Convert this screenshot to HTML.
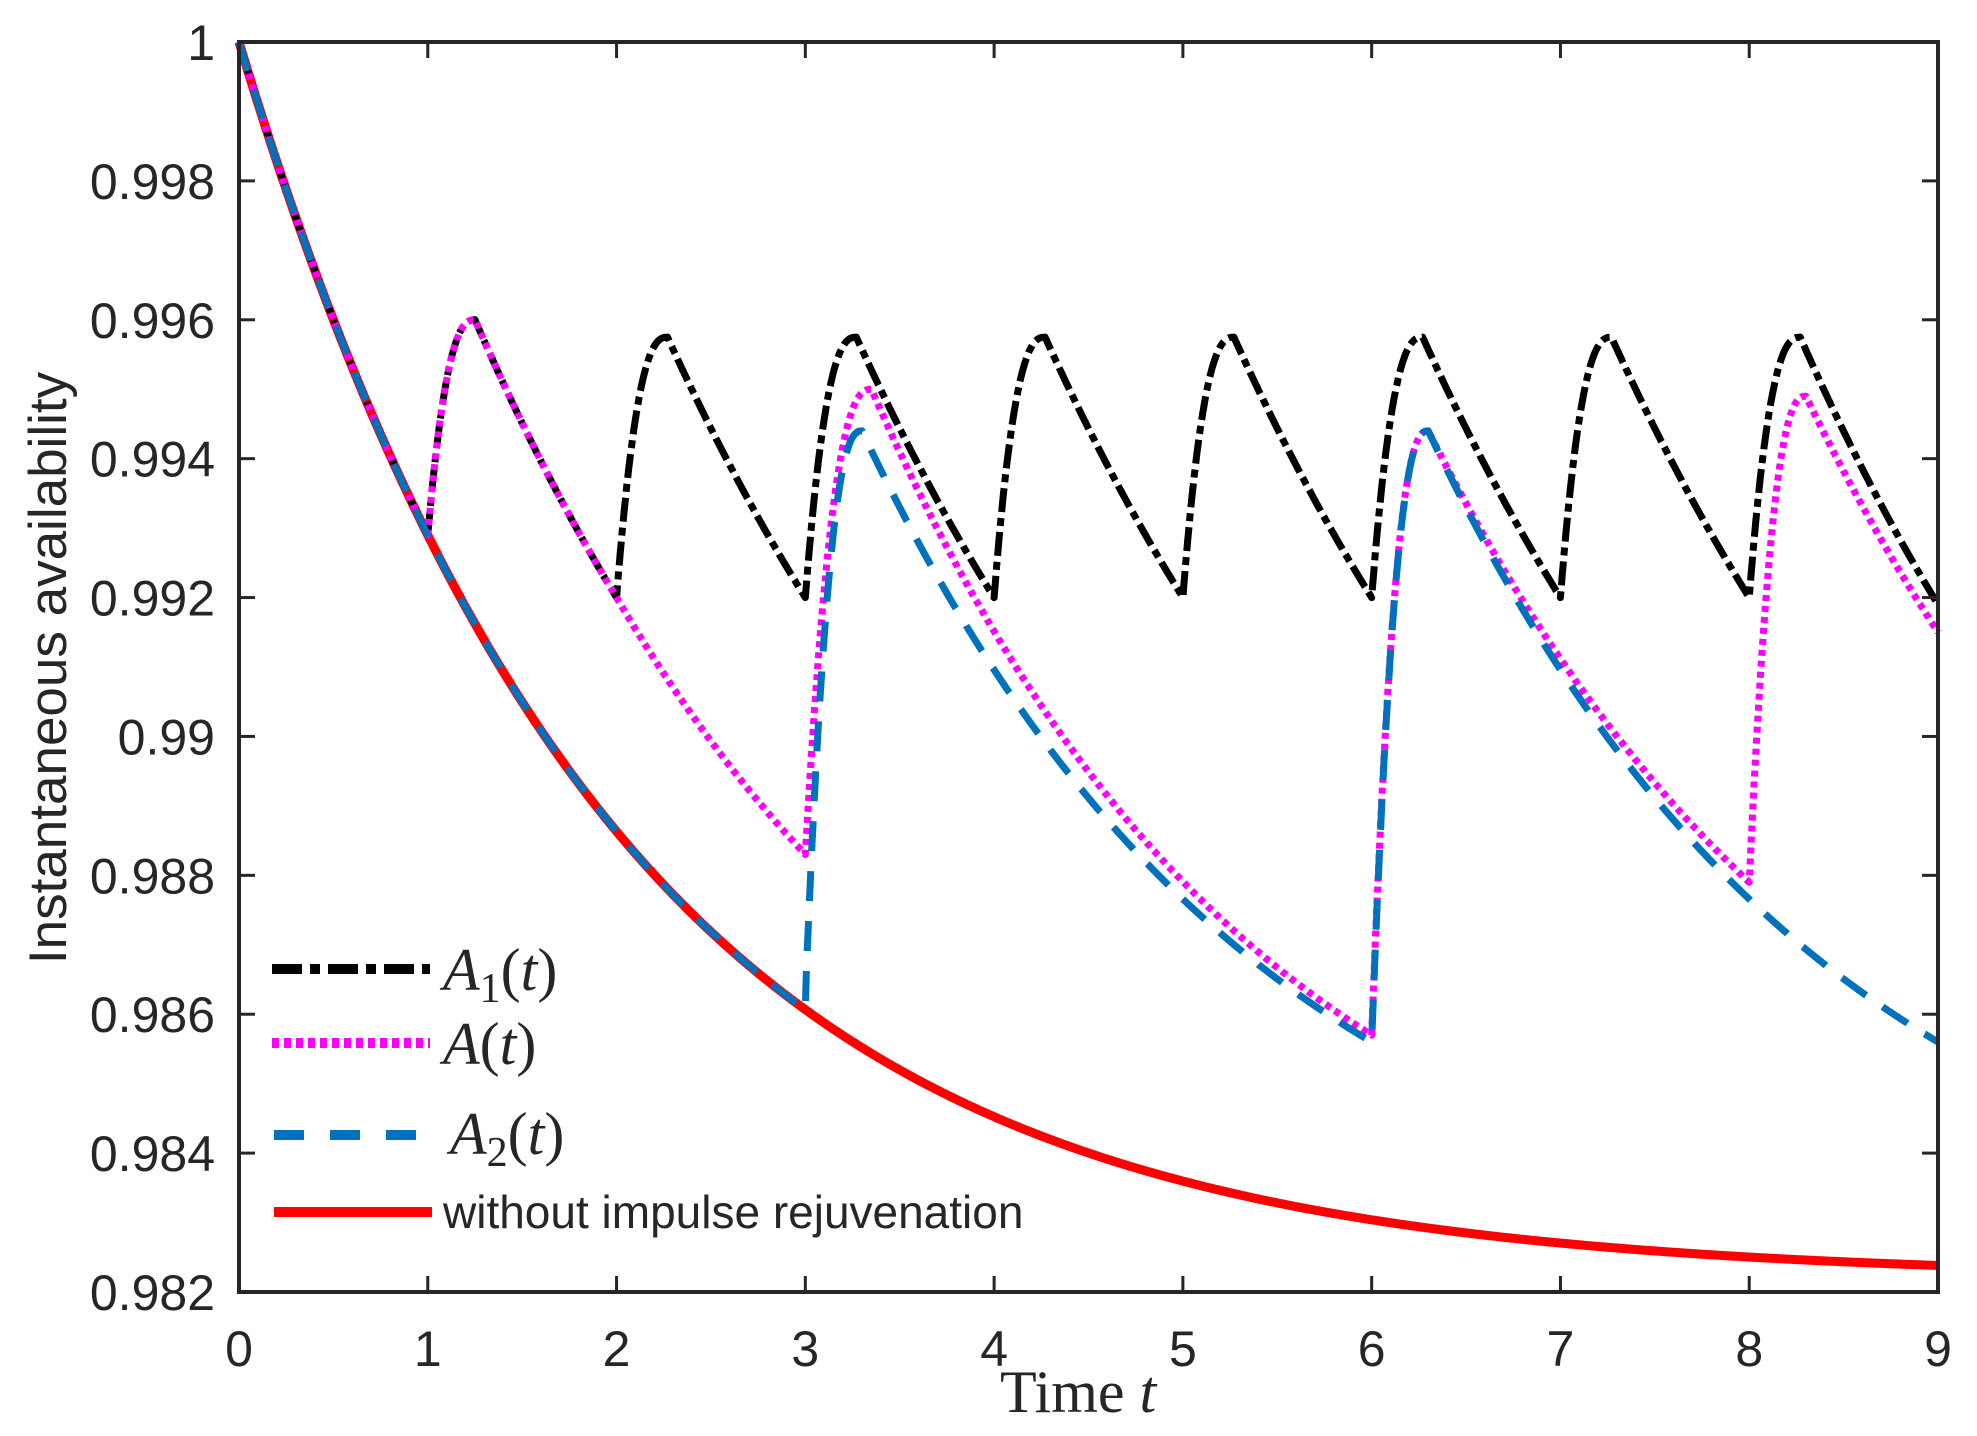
<!DOCTYPE html>
<html><head><meta charset="utf-8"><style>
html,body{margin:0;padding:0;background:#fff;}
svg{display:block;}
.tk{font-family:"Liberation Sans",sans-serif;font-size:50px;fill:#262626;}
</style></head><body>
<svg id="s" width="1977" height="1436" viewBox="0 0 1977 1436" xmlns="http://www.w3.org/2000/svg">
<rect width="1977" height="1436" fill="#fff"/>
<g id="plot"></g>
<rect x="239" y="42" width="1699" height="1250" fill="none" stroke="#262626" stroke-width="4"/>
<g id="ticks" stroke="#262626" stroke-width="3"></g>
<g id="labels"></g>
<text x="66" y="668" transform="rotate(-90 66 668)" text-anchor="middle" font-family="Liberation Sans,sans-serif" font-size="53" fill="#262626">Instantaneous availability</text>
<text x="1000" y="1412" font-family="Liberation Serif,serif" font-size="60" fill="#262626">Time <tspan font-style="italic">t</tspan></text>
<g id="legend">
<line x1="272" y1="969" x2="430" y2="969" stroke="#000" stroke-width="10" stroke-dasharray="30,8,10,8"/>
<text x="443" y="990" font-family="Liberation Serif,serif" font-style="italic" font-size="60" fill="#262626">A<tspan font-style="normal" font-size="42" dy="12">1</tspan><tspan font-style="normal" dy="-12">(</tspan>t<tspan font-style="normal">)</tspan></text>
<line x1="272" y1="1043" x2="430" y2="1043" stroke="#ff00ff" stroke-width="10" stroke-dasharray="7,5"/>
<text x="443" y="1064" font-family="Liberation Serif,serif" font-style="italic" font-size="60" fill="#262626">A<tspan font-style="normal">(</tspan>t<tspan font-style="normal">)</tspan></text>
<line x1="274" y1="1135" x2="432" y2="1135" stroke="#0072BD" stroke-width="10" stroke-dasharray="30,26"/>
<text x="450" y="1154" font-family="Liberation Serif,serif" font-style="italic" font-size="60" fill="#262626">A<tspan font-style="normal" font-size="42" dy="12">2</tspan><tspan font-style="normal" dy="-12">(</tspan>t<tspan font-style="normal">)</tspan></text>
<line x1="274" y1="1212" x2="432" y2="1212" stroke="#ff0000" stroke-width="10"/>
<text x="443" y="1228" font-family="Liberation Sans,sans-serif" font-size="46" fill="#262626">without impulse rejuvenation</text>
</g>
</svg>
<script>
var X0=239,X1=1938,Y0=1292,Y1=42;
function px(t){return X0+(X1-X0)*t/9;}
function py(v){return Y0-(Y0-Y1)*(v-0.982)/0.018;}
var a=0.9822,k=0.509;
function base(t){return a+(1-a)*Math.exp(-k*t);}
function seg(t0,t1,A0,tp,P,E){
  var d=t1-tp, kk=Math.log((P-a)/(E-a))/d;
  return function(t){
    if(t<tp){var u=(t-t0)/(tp-t0);return A0+(P-A0)*(1-Math.pow(1-u,2.5));}
    return a+(P-a)*Math.exp(-kk*(t-tp));
  };
}
function decay(t0,t1,A0,E){var kk=Math.log((A0-a)/(E-a))/(t1-t0);return function(t){return a+(A0-a)*Math.exp(-kk*(t-t0));};}
function build(list){return function(t){for(var i=0;i<list.length;i++){if(t<=list[i][1]+1e-9&&t>=list[i][0])return list[i][2](t);}return base(t);};}
var A1L=[[0,1,base],[1,2,seg(1,2,0.9929,1.25,0.9960,0.9920)]];
for(var n=2;n<9;n++)A1L.push([n,n+1,seg(n,n+1,0.9920,n+0.27,0.99575,n==8?0.9919:0.9920)]);
var AL=[[0,1,base],[1,2,seg(1,2,0.9929,1.25,0.9960,0.9920)],[2,3,decay(2,3,0.9920,0.9883)],
 [3,6,seg(3,6,0.9883,3.35,0.9950,0.9857)],[6,8,seg(6,8,0.9857,6.3,0.9944,0.9879)],[8,9,seg(8,9,0.9879,8.3,0.9949,0.9915)]];
var A2L=[[0,3,base],[3,6,seg(3,6,0.98625,3.3,0.9944,0.9856)],[6,9,seg(6,9,0.9856,6.3,0.9944,0.9856)]];
function path(f){var d="",N=1800;for(var i=0;i<=N;i++){var t=9*i/N;var v=f(t);d+=(i?"L":"M")+px(t).toFixed(1)+","+py(v).toFixed(1);}return d;}
var g=document.getElementById("plot"),NS="http://www.w3.org/2000/svg";
function add(d,col,w,dash){var p=document.createElementNS(NS,"path");p.setAttribute("d",d);p.setAttribute("fill","none");p.setAttribute("stroke",col);p.setAttribute("stroke-width",w);p.setAttribute("stroke-linejoin","round");if(dash)p.setAttribute("stroke-dasharray",dash);g.appendChild(p);}
add(path(base),"#ff0000",9);
add(path(build(A1L)),"#000",7,"24,6,8,6");
add(path(build(AL)),"#ff00ff",7,"6,5");
add(path(build(A2L)),"#0072BD",7,"30,20");
var tk=document.getElementById("ticks"),lb=document.getElementById("labels");
function ln(x1,y1,x2,y2){var l=document.createElementNS(NS,"line");l.setAttribute("x1",x1);l.setAttribute("y1",y1);l.setAttribute("x2",x2);l.setAttribute("y2",y2);tk.appendChild(l);}
function tx(x,y,s,anc){var t=document.createElementNS(NS,"text");t.setAttribute("x",x);t.setAttribute("y",y);t.setAttribute("class","tk");t.setAttribute("text-anchor",anc);t.textContent=s;lb.appendChild(t);}
for(var i=0;i<=9;i++){var x=px(i);ln(x,Y0,x,Y0-16);ln(x,Y1,x,Y1+16);tx(x,1366,""+i,"middle");}
var yl=["0.982","0.984","0.986","0.988","0.99","0.992","0.994","0.996","0.998","1"];
for(var j=0;j<=9;j++){var y=Y0-(Y0-Y1)*j/9;ln(X0,y,X0+16,y);ln(X1,y,X1-16,y);tx(215,y+18,yl[j],"end");}
</script>
</body></html>
